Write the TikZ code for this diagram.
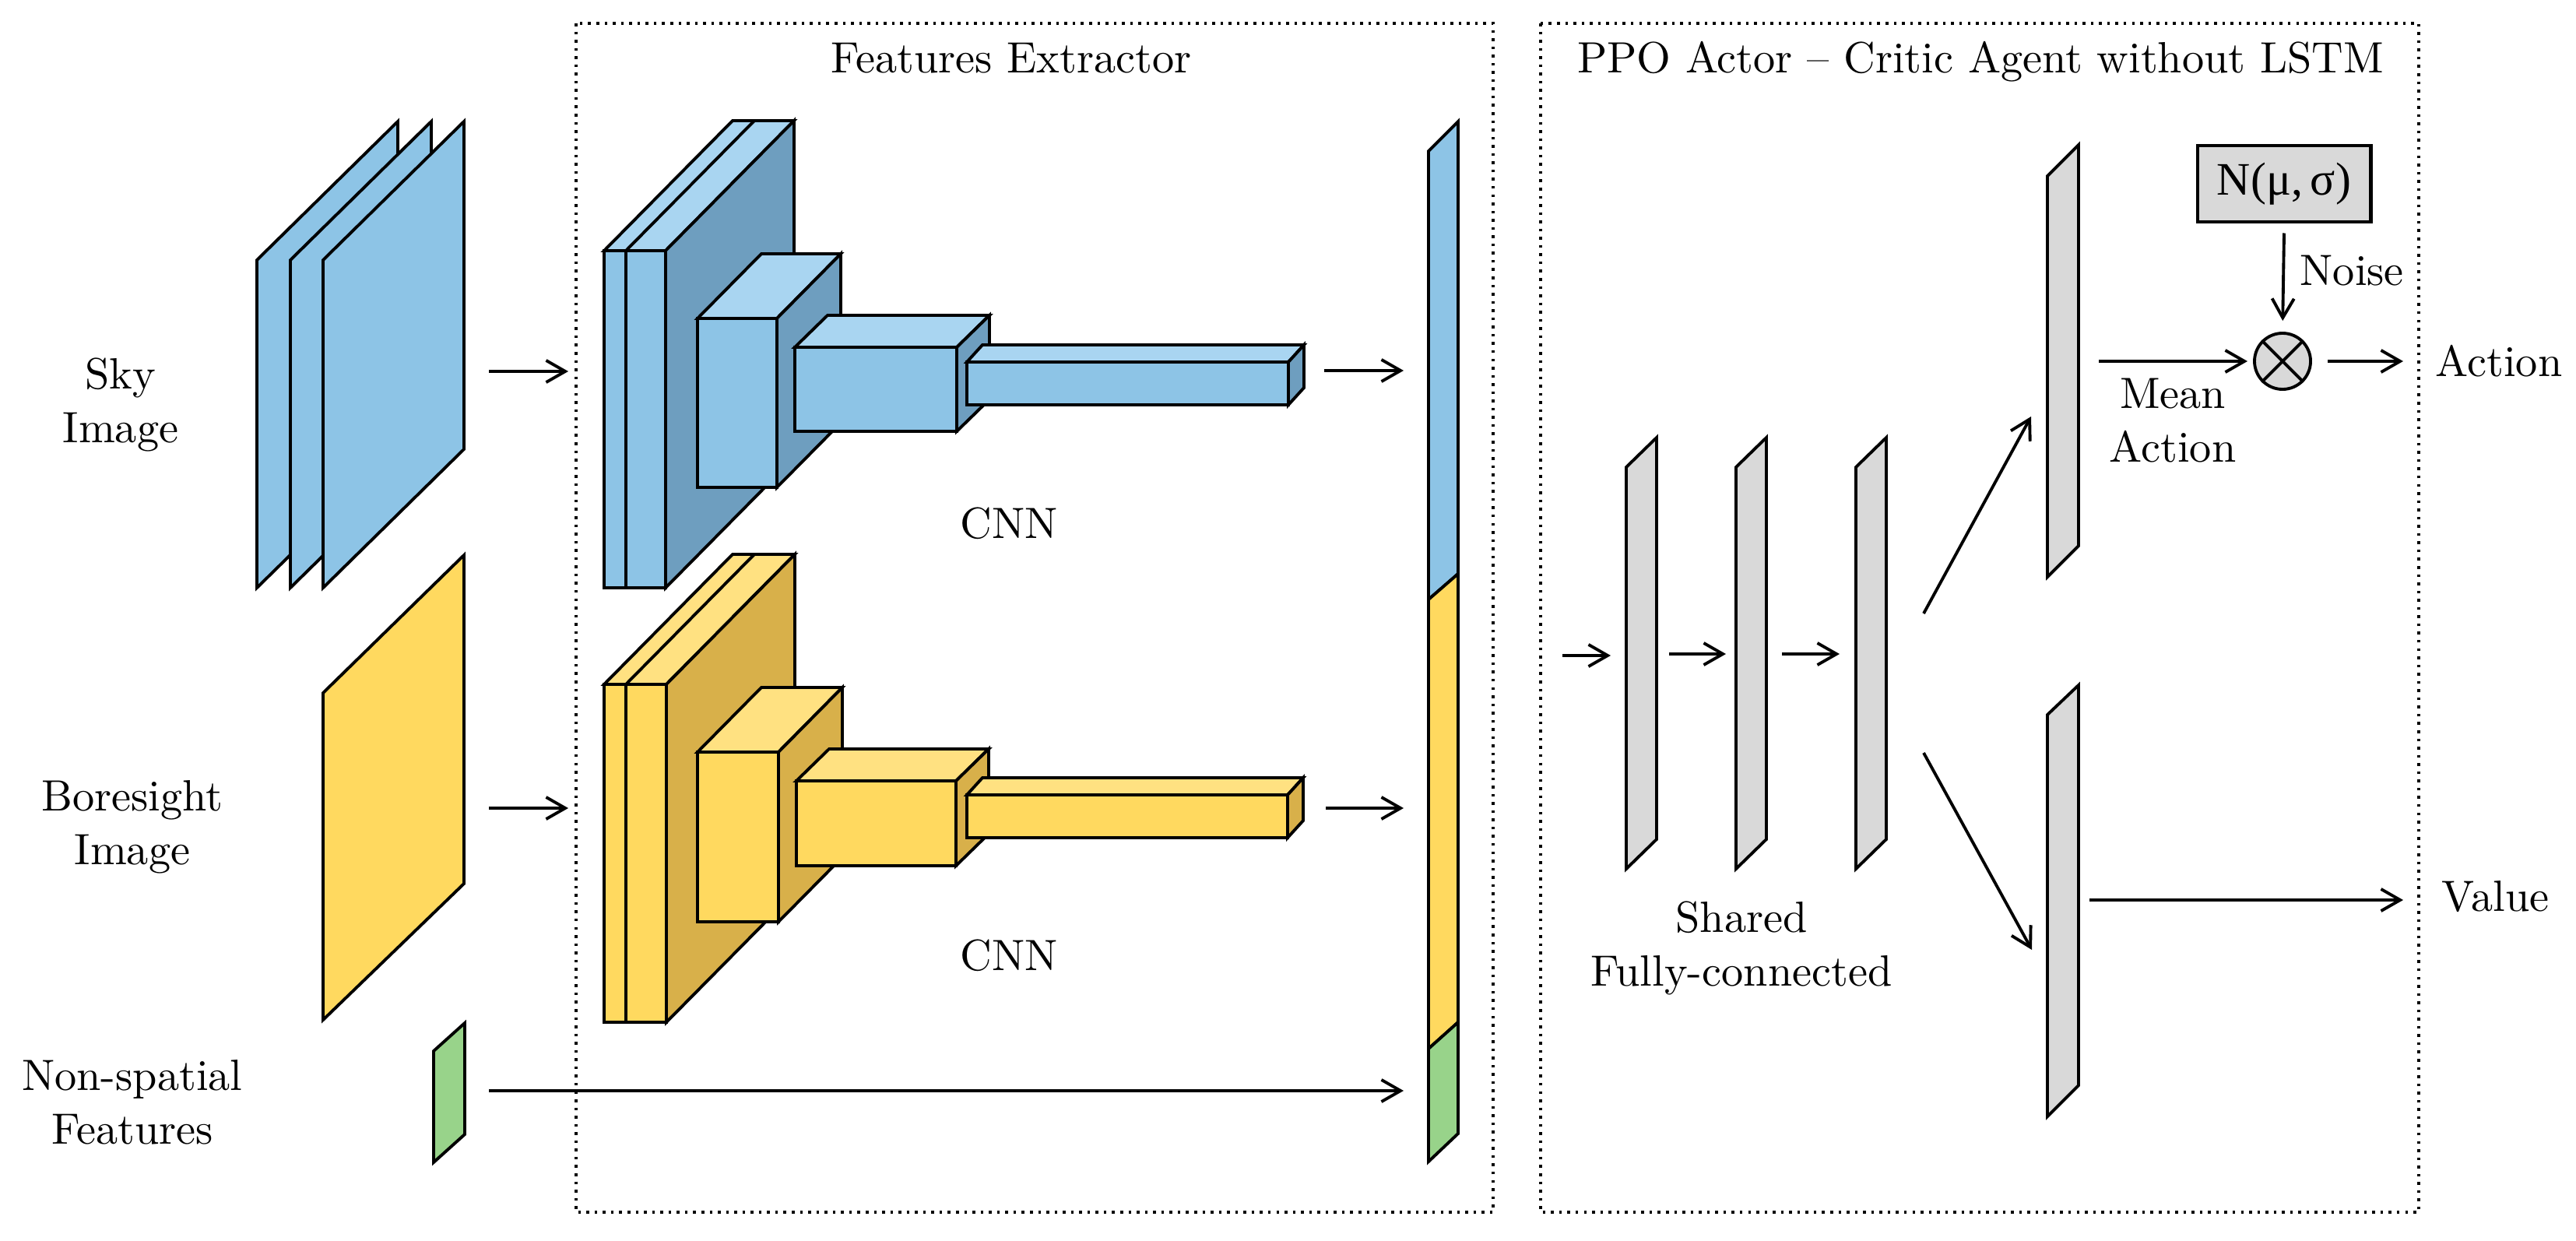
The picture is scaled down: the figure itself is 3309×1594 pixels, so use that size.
\documentclass[tikz,border=0pt]{standalone}
\usepackage{fontspec}
\setmainfont{lmroman10-regular.otf}
\newfontfamily\greekserif{Liberation Serif}
\usetikzlibrary{arrows.meta}
\definecolor{bluefront}{HTML}{8DC4E6}
\definecolor{bluetop}{HTML}{A9D5F1}
\definecolor{blueside}{HTML}{6E9EBF}
\definecolor{yelfront}{HTML}{FFD95F}
\definecolor{yeltop}{HTML}{FFE181}
\definecolor{yelside}{HTML}{D8B04A}
\definecolor{greenfill}{HTML}{98D38A}
\definecolor{grayfill}{HTML}{D9D9D9}
\tikzset{
  lbl/.style={font=\fontsize{16}{19.6}\selectfont, inner sep=0pt, align=center},
  arr/.style={-{Straight Barb[length=7pt,width=8pt]}, line width=1.1pt},
  edge line/.style={line width=1.1pt, line join=miter},
  dotbox/.style={draw, line width=1pt, dotted},
}
% cuboid: x1 y1 x2 y2 (front rectangle, pixel coords), depth dx dy, front/top/side colours
\newcommand\mycube[9]{%
  \filldraw[edge line, fill=#8] (#1,#2) -- ++(#5,-#6) -- ++({#3-#1},0) -- (#3,#2) -- cycle;
  \filldraw[edge line, fill=#9] (#3,#2) -- ++(#5,-#6) -- ++(0,{#4-#2}) -- (#3,#4) -- cycle;
  \filldraw[edge line, fill=#7] (#1,#2) rectangle (#3,#4);
}
\begin{document}
\begin{tikzpicture}[x=0.01cm,y=-0.01cm]
\useasboundingbox (0,0) rectangle (3309,1594);

% ---------- dotted frames ----------
\draw[dotbox] (740,30) rectangle (1918,1557);
\draw[dotbox] (1979,30) rectangle (3107,1557);
\node[lbl, anchor=base] (fe-title) at (1299,94) {Features Extractor};
\node[lbl, anchor=base] (ppo-title) at (2544,94) {PPO Actor -- Critic Agent without LSTM};

% ---------- inputs ----------
\node[lbl] (sky-lbl) at (155,520) {Sky\\Image};
\node[lbl] (bore-lbl) at (170,1062) {Boresight\\Image};
\node[lbl] (ns-lbl) at (170,1416) {Non-spatial\\Features};

\filldraw[edge line, fill=bluefront] (330,334) -- (511,156) -- (511,577) -- (330,755) -- cycle;
\filldraw[edge line, fill=bluefront] (373,334) -- (554,156) -- (554,577) -- (373,755) -- cycle;
\filldraw[edge line, fill=bluefront] (415,334) -- (596,156) -- (596,577) -- (415,755) -- cycle;
\filldraw[edge line, fill=yelfront] (415,890) -- (596,713) -- (596,1135) -- (415,1310) -- cycle;
\filldraw[edge line, fill=greenfill] (557,1350) -- (597,1314) -- (597,1457) -- (557,1493) -- cycle;

% ---------- sky CNN ----------
\mycube{776}{322}{855}{755}{165}{167}{bluefront}{bluetop}{blueside}
\draw[edge line] (804,322) -- (804,755);
\draw[edge line] (804,322) -- ++(165,-167);
\mycube{896}{409}{998}{626}{82}{83}{bluefront}{bluetop}{blueside}
\mycube{1021}{446}{1229}{554}{42}{41}{bluefront}{bluetop}{blueside}
\mycube{1242}{465}{1655}{520}{20}{22}{bluefront}{bluetop}{blueside}
\node[lbl, anchor=base] (cnn1) at (1296,691) {CNN};

% ---------- boresight CNN ----------
\mycube{776}{879}{856}{1313}{165}{167}{yelfront}{yeltop}{yelside}
\draw[edge line] (804,879) -- (804,1313);
\draw[edge line] (804,879) -- ++(165,-167);
\mycube{896}{966}{1000}{1184}{82}{83}{yelfront}{yeltop}{yelside}
\mycube{1023}{1003}{1228}{1112}{42}{41}{yelfront}{yeltop}{yelside}
\mycube{1242}{1021}{1654}{1076}{20}{22}{yelfront}{yeltop}{yelside}
\node[lbl, anchor=base] (cnn2) at (1296,1246) {CNN};

% ---------- concatenated feature vector ----------
\filldraw[edge line, fill=bluefront] (1835,194) -- (1873,156) -- (1873,737) -- (1835,770) -- cycle;
\filldraw[edge line, fill=yelfront] (1835,770) -- (1873,737) -- (1873,1313) -- (1835,1347) -- cycle;
\filldraw[edge line, fill=greenfill] (1835,1347) -- (1873,1313) -- (1873,1456) -- (1835,1492) -- cycle;

% ---------- shared fully connected ----------
\filldraw[edge line, fill=grayfill] (2089,600) -- (2128,562) -- (2128,1078) -- (2089,1116) -- cycle;
\filldraw[edge line, fill=grayfill] (2230,600) -- (2269,562) -- (2269,1078) -- (2230,1116) -- cycle;
\filldraw[edge line, fill=grayfill] (2384,600) -- (2423,562) -- (2423,1078) -- (2384,1116) -- cycle;
\node[lbl] (fc-lbl) at (2237,1218) {Shared\\Fully-connected};

% ---------- heads ----------
\filldraw[edge line, fill=grayfill] (2630,226) -- (2670,186) -- (2670,701) -- (2630,741) -- cycle;
\filldraw[edge line, fill=grayfill] (2630,918) -- (2670,880) -- (2670,1394) -- (2630,1434) -- cycle;

\node[draw, line width=1.4pt, fill=grayfill, minimum width=2.22cm, minimum height=0.98cm, inner sep=0pt,
      font=\fontsize{17}{19.6}\selectfont\greekserif] (nbox) at (2934,236) {N(μ,\,σ)};
\node[draw, edge line, circle, fill=grayfill, minimum size=0.72cm, inner sep=0pt] (mult) at (2932,464) {};
\draw[edge line] (mult.north west) -- (mult.south east);
\draw[edge line] (mult.north east) -- (mult.south west);

\node[lbl, anchor=base west] (noise-lbl) at (2954,366) {Noise};
\node[lbl] (mean-lbl) at (2791,540) {Mean\\Action};
\node[lbl, anchor=base west] (action-lbl) at (3128,483) {Action};
\node[lbl, anchor=base west] (value-lbl) at (3136,1170) {Value};

% ---------- connector end points ----------
\coordinate (skyA) at (628,477);   \coordinate (skyB) at (730,477);
\coordinate (borA) at (628,1038);  \coordinate (borB) at (730,1038);
\coordinate (nsA) at (628,1401);   \coordinate (nsB) at (1803,1401);
\coordinate (c1A) at (1701,476);   \coordinate (c1B) at (1803,476);
\coordinate (c2A) at (1703,1038);  \coordinate (c2B) at (1803,1038);
\coordinate (f0A) at (2007,842);   \coordinate (f0B) at (2069,842);
\coordinate (f1A) at (2144,840);   \coordinate (f1B) at (2217,840);
\coordinate (f2A) at (2289,840);   \coordinate (f2B) at (2363,840);
\coordinate (acA) at (2471,788);   \coordinate (acB) at (2609,535);
\coordinate (vaA) at (2471,967);   \coordinate (vaB) at (2610,1220);
\coordinate (meA) at (2696,464);   \coordinate (meB) at (2887,464);
\coordinate (ouA) at (2990,464);   \coordinate (ouB) at (3087,464);
\coordinate (vlA) at (2684,1156);  \coordinate (vlB) at (3087,1156);

\draw[arr] (skyA) -- (skyB);
\draw[arr] (borA) -- (borB);
\draw[arr] (nsA) -- (nsB);
\draw[arr] (c1A) -- (c1B);
\draw[arr] (c2A) -- (c2B);
\draw[arr] (f0A) -- (f0B);
\draw[arr] (f1A) -- (f1B);
\draw[arr] (f2A) -- (f2B);
\draw[arr] (acA) -- (acB);
\draw[arr] (vaA) -- (vaB);
\draw[arr] (meA) -- (meB);
\draw[arr] (ouA) -- (ouB);
\draw[arr] (vlA) -- (vlB);
\draw[arr, shorten >=0.14cm] ([yshift=-0.12cm]nbox.south) -- (mult.north);
\end{tikzpicture}
\end{document}
